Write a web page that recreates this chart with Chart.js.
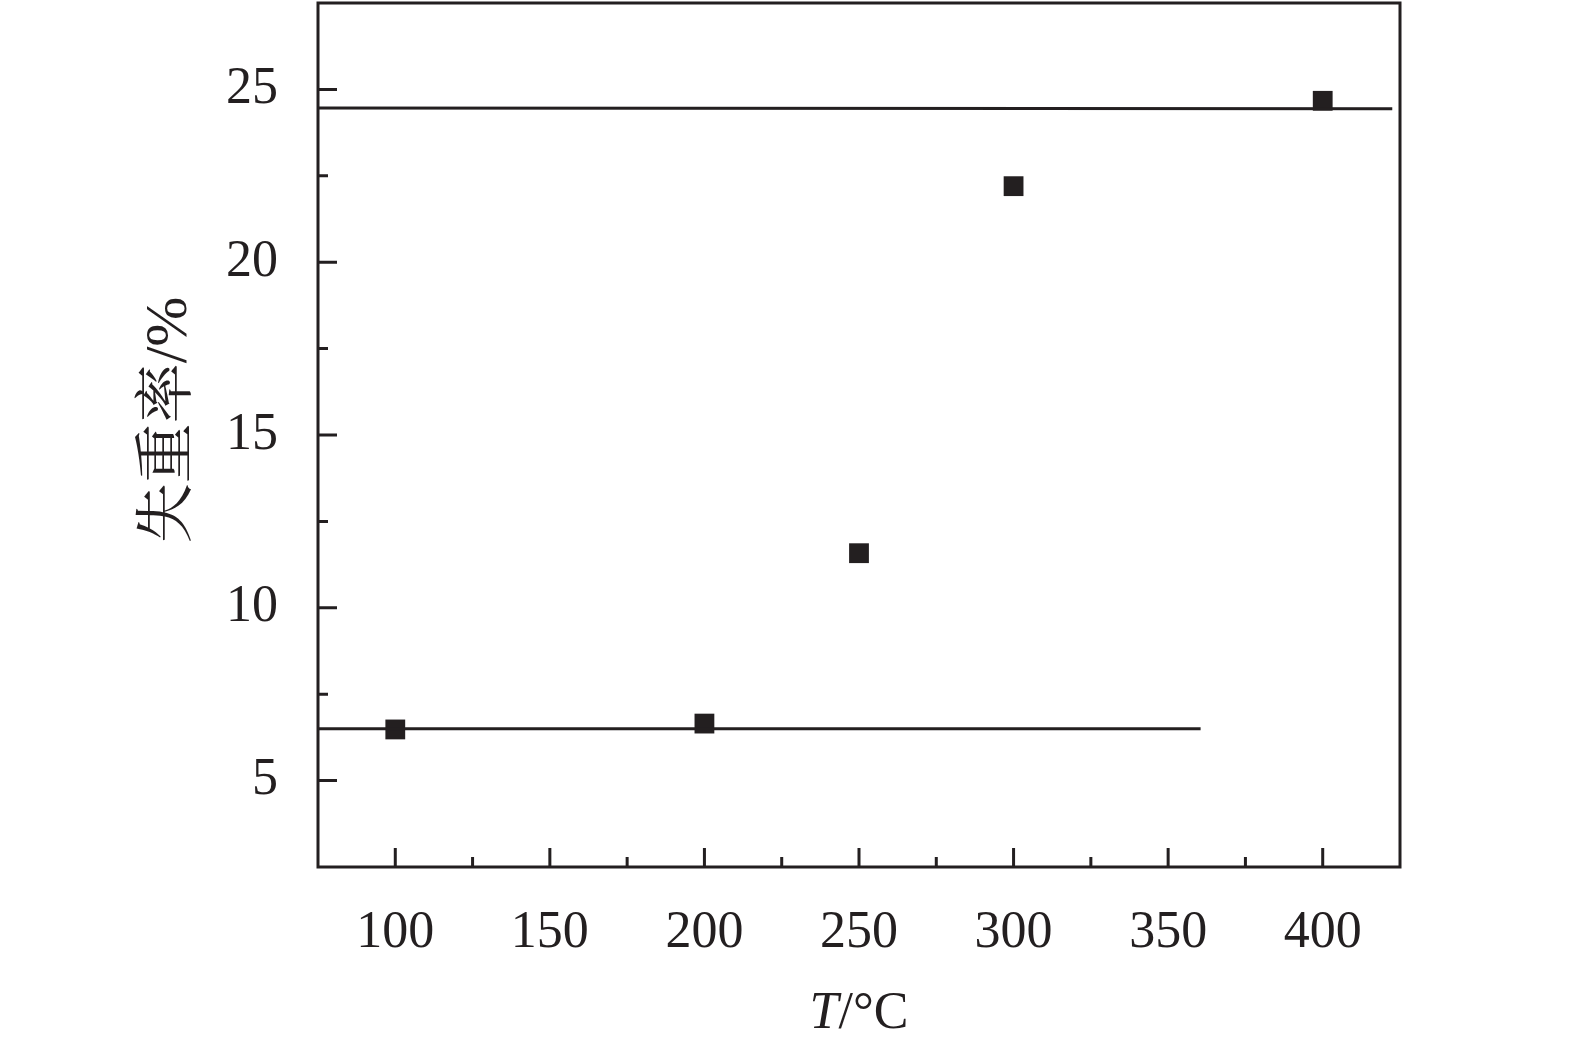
<!DOCTYPE html>
<html>
<head>
<meta charset="utf-8">
<script src="https://cdn.jsdelivr.net/npm/chart.js@4/dist/chart.umd.min.js"></script>
<style>
  html, body { margin: 0; padding: 0; background: #fff; }
  #wrap { width: 1575px; height: 1049px; }
</style>
</head>
<body>
<div id="wrap"><canvas id="myChart"></canvas></div>
<script>
// Số liệu
const temps = [100, 200, 250, 300, 400];
const lossRates = [6.48, 6.65, 11.58, 22.2, 24.67];

// Hai đường nằm ngang
const upperLineX = [75, 422.5];
const upperLineY = [24.46, 24.44];
const lowerLineX = [75, 360.5];
const lowerLineY = [6.5, 6.5];

// Vạch chia
const xMajorTicks = [100, 150, 200, 250, 300, 350, 400];
const xMinorTicks = [125, 175, 225, 275, 325, 375];
const yMajorTicks = [5, 10, 15, 20, 25];
const yMinorTicks = [7.5, 12.5, 17.5, 22.5];

const xTitleMain = "T";
const xTitleUnit = "/°C";
const yTitle = "失重率/%";

const ink = "#231f20";
const serif = "'Liberation Serif', 'Noto Serif CJK SC', 'Noto Sans CJK SC', serif";

function toPoints(xs, ys) {
  return xs.map((x, i) => ({ x: x, y: ys[i] }));
}

// Vẽ khung, vạch chia hướng vào trong và tên các trục
const framePlugin = {
  id: "frame",
  afterDraw(chart) {
    const ctx = chart.ctx;
    const a = chart.chartArea;
    const xs = chart.scales.x;
    const ys = chart.scales.y;
    ctx.save();
    ctx.strokeStyle = ink;
    ctx.lineWidth = 3;
    ctx.lineCap = "butt";
    ctx.beginPath();
    xMajorTicks.forEach((v) => {
      const px = xs.getPixelForValue(v);
      ctx.moveTo(px, a.bottom); ctx.lineTo(px, a.bottom - 19);
    });
    xMinorTicks.forEach((v) => {
      const px = xs.getPixelForValue(v);
      ctx.moveTo(px, a.bottom); ctx.lineTo(px, a.bottom - 10);
    });
    yMajorTicks.forEach((v) => {
      const py = ys.getPixelForValue(v);
      ctx.moveTo(a.left, py); ctx.lineTo(a.left + 19, py);
    });
    yMinorTicks.forEach((v) => {
      const py = ys.getPixelForValue(v);
      ctx.moveTo(a.left, py); ctx.lineTo(a.left + 10, py);
    });
    ctx.stroke();
    ctx.strokeRect(a.left, a.top, a.right - a.left, a.bottom - a.top);

    // Tên trục x: T nghiêng + /°C
    ctx.fillStyle = ink;
    ctx.textBaseline = "middle";
    ctx.textAlign = "left";
    const italic = "italic 52px " + serif;
    const normal = "52px " + serif;
    ctx.font = italic;
    const wT = ctx.measureText(xTitleMain).width;
    ctx.font = normal;
    const wR = ctx.measureText(xTitleUnit).width;
    const cx = (a.left + a.right) / 2;
    let x0 = cx - (wT + wR) / 2;
    ctx.font = italic;
    ctx.fillText(xTitleMain, x0, 1014);
    ctx.font = normal;
    ctx.fillText(xTitleUnit, x0 + wT, 1014);

    // Tên trục y (xoay dọc)
    ctx.translate(170, 420);
    ctx.rotate(-Math.PI / 2);
    ctx.textAlign = "center";
    ctx.font = "60px " + serif;
    ctx.fillText(yTitle, 0, 0);
    ctx.restore();
  }
};

const chartOption = {
  type: "scatter",
  data: {
    datasets: [
      {
        data: toPoints(upperLineX, upperLineY),
        showLine: true,
        borderColor: ink,
        borderWidth: 3,
        pointRadius: 0,
        fill: false
      },
      {
        data: toPoints(lowerLineX, lowerLineY),
        showLine: true,
        borderColor: ink,
        borderWidth: 3,
        pointRadius: 0,
        fill: false
      },
      {
        data: toPoints(temps, lossRates),
        pointStyle: "rect",
        pointRadius: 14,
        backgroundColor: ink,
        borderColor: ink,
        borderWidth: 0
      }
    ]
  },
  options: {
    responsive: true,
    maintainAspectRatio: false,
    animation: false,
    layout: {
      autoPadding: false,
      padding: { left: 0, top: 3, right: 175, bottom: 0 }
    },
    plugins: {
      legend: { display: false },
      tooltip: { enabled: false }
    },
    scales: {
      x: {
        type: "linear",
        min: 75,
        max: 425,
        afterBuildTicks: (scale) => {
          scale.ticks = xMajorTicks.map((v) => ({ value: v }));
        },
        afterFit: (scale) => {
          scale.height = 182;
          scale.paddingLeft = 0;
          scale.paddingRight = 0;
        },
        grid: { display: false, drawTicks: false },
        border: { display: false },
        ticks: {
          padding: 35,
          color: ink,
          font: { family: serif, size: 52 },
          maxRotation: 0
        }
      },
      y: {
        type: "linear",
        min: 2.5,
        max: 27.5,
        afterBuildTicks: (scale) => {
          scale.ticks = yMajorTicks.map((v) => ({ value: v }));
        },
        afterFit: (scale) => {
          scale.width = 318;
          scale.paddingTop = 0;
          scale.paddingBottom = 0;
        },
        grid: { display: false, drawTicks: false },
        border: { display: false },
        ticks: {
          padding: 40,
          color: ink,
          font: { family: serif, size: 52 }
        }
      }
    }
  },
  plugins: [framePlugin]
};

new Chart(document.getElementById("myChart").getContext("2d"), chartOption);
</script>
</body>
</html>
